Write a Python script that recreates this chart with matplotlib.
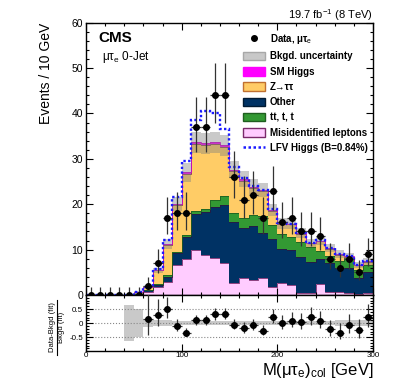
import numpy as np
import matplotlib
matplotlib.use('Agg')
import matplotlib.pyplot as plt
from matplotlib.lines import Line2D
from matplotlib.patches import Patch
from matplotlib.ticker import MultipleLocator

plt.rcParams['font.family'] = ['Liberation Sans', 'DejaVu Sans']
plt.rcParams['mathtext.fontset'] = 'custom'
plt.rcParams['mathtext.rm'] = 'Liberation Sans'
plt.rcParams['mathtext.it'] = 'Liberation Sans:italic'
plt.rcParams['mathtext.bf'] = 'Liberation Sans:bold'

# binning: 10 GeV bins from 0 to 300
edges = np.arange(0, 310, 10)

# observed events per bin
data = np.array([0, 0, 0, 0, 0, 0, 2, 7, 17, 18, 18, 37, 37, 44, 44,
                 26, 21, 22, 17, 23, 16, 17, 14, 14, 13, 8, 6, 8, 5, 9])

# background components (stacked bottom -> top)
misid = np.array([0, 0, 0, 0, 0, 0.05, 0.6, 1.8, 2.9, 6.6, 7.9, 9.9, 8.8, 8.1, 7.0,
                  2.6, 3.8, 3.3, 3.7, 1.8, 2.6, 2.2, 0.5, 0.5, 2.4, 0.7, 0.6, 0.5, 0.2, 0.5])
other = np.array([0, 0, 0, 0, 0.05, 0.15, 0.4, 0.4, 1.1, 2.6, 4.9, 7.9, 9.4, 11.3, 12.8,
                  13.5, 10.9, 11.8, 10.0, 10.5, 7.6, 7.7, 7.9, 6.8, 5.6, 6.3, 5.3, 5.5, 3.6, 4.6])
ttbar = np.array([0, 0, 0, 0, 0, 0.05, 0.1, 0.2, 0.3, 0.3, 0.4, 0.6, 0.7, 1.5, 1.9,
                  1.9, 2.3, 2.5, 3.7, 3.2, 3.3, 2.9, 3.2, 3.3, 1.6, 1.5, 1.6, 2.1, 1.7, 1.5])
ztt = np.array([0, 0, 0, 0, 0.05, 0.3, 0.65, 3.0, 6.8, 10.3, 13.5, 14.8, 14.1, 12.3, 10.9,
                9.3, 8.2, 6.0, 5.5, 3.1, 2.2, 2.8, 1.9, 0.8, 2.3, 1.7, 1.4, 0.35, 1.1, 0.7])
smh = np.array([0, 0, 0, 0, 0, 0, 0, 0.05, 0.1, 0.2, 0.3, 0.4, 0.4, 0.4, 0.4,
                0.3, 0.3, 0.2, 0.2, 0.2, 0.1, 0.1, 0.1, 0.1, 0.1, 0.1, 0.1, 0.05, 0.1, 0.1])

# relative background uncertainty
bkg_rel_unc = np.array([0, 0, 0, 0, 0.65, 0.5, 0.13, 0.1, 0.1, 0.08, 0.08, 0.07, 0.07, 0.07, 0.07,
                        0.07, 0.07, 0.07, 0.07, 0.07, 0.08, 0.08, 0.08, 0.08, 0.08, 0.08, 0.1, 0.1, 0.1, 0.1])

# LFV Higgs signal on top of background
lfv = np.array([0, 0, 0, 0, 0, 0, 0.1, 0.2, 0.9, 1.5, 2.5, 4.9, 7.1, 6.5, 3.5,
                0.5, 0.3, 0.2, 0.1, 0.1, 0.1, 0.05, 0.05, 0.05, 0.05, 0.05, 0, 0, 0, 0])

centers = 0.5 * (edges[:-1] + edges[1:])

layers = [
    (misid, '#ffccff', '#7a2a6a'),
    (other, '#003264', '#2a1a40'),
    (ttbar, '#339933', '#1f5f1f'),
    (ztt, '#ffcc66', '#7a3a50'),
    (smh, '#ff00ff', '#cc00cc'),
]

fig = plt.figure(figsize=(3.99, 3.84), dpi=100)
ax = fig.add_axes([0.2155, 0.2318, 0.7193, 0.7092])
rax = fig.add_axes([0.2155, 0.0852, 0.7193, 0.1466], sharex=ax)

# stacked backgrounds
bottom = np.zeros(len(data))
for vals, fc, ec in layers:
    top = bottom + vals
    ax.stairs(top, edges, baseline=bottom, fill=True, color=fc, lw=0)
    ax.stairs(top, edges, baseline=None, color=ec, lw=0.6)
    bottom = top
total = bottom

# uncertainty band
unc = total * bkg_rel_unc
ax.stairs(total + unc, edges, baseline=total - unc, fill=True,
          color='#808080', alpha=0.42, lw=0)

# signal line
ax.stairs(total + lfv, edges, baseline=None, color='#1a1aff', lw=1.7, ls=(0, (1, 1)))

# data with approx. poisson errors
err_up = np.where(data == 0, 1.84, np.sqrt(data + 0.25) + 0.5)
err_dn = np.where(data == 0, 0.0, np.sqrt(data + 0.25) - 0.5)
ax.errorbar(centers, data, yerr=[err_dn, err_up], xerr=5, fmt='o', color='k',
            ecolor='#333333', ms=4, elinewidth=0.9, capsize=0, zorder=6, clip_on=False)

# ratio panel
mask = data > 0
ratio = (data[mask] - total[mask]) / total[mask]
rel = np.divide(unc, total, out=np.zeros_like(total), where=total > 0)
rax.stairs(rel, edges, baseline=-rel, fill=True, color='#808080', alpha=0.42, lw=0)
for yv in (-0.5, 0, 0.5):
    rax.axhline(yv, color='#888888', ls=':', lw=0.8, zorder=1)
rax.errorbar(centers[mask], ratio, yerr=[err_dn[mask] / total[mask], err_up[mask] / total[mask]],
             xerr=5, fmt='o', color='k', ecolor='#333333', ms=4, elinewidth=0.9, capsize=0, zorder=6)

# axes styling
ax.set_xlim(0, 300)
ax.set_ylim(0, 60)
rax.set_ylim(-1, 1)
ax.yaxis.set_major_locator(MultipleLocator(10))
ax.yaxis.set_minor_locator(MultipleLocator(2))
ax.xaxis.set_major_locator(MultipleLocator(100))
ax.xaxis.set_minor_locator(MultipleLocator(20))
rax.set_yticks([-0.5, 0, 0.5])
rax.set_yticklabels(['-0.5', '0', '0.5'])
rax.yaxis.set_minor_locator(MultipleLocator(0.1))

for a in (ax, rax):
    a.tick_params(which='both', direction='in', top=True, right=True, width=0.8)
    a.tick_params(which='major', length=5)
    a.tick_params(which='minor', length=2.5)
    for s in a.spines.values():
        s.set_linewidth(1.0)
ax.tick_params(labelbottom=False, labelsize=7.5, pad=2)
rax.tick_params(labelsize=5.8, pad=2)
rax.tick_params(axis='x', pad=0.8)

# legend
handles = [
    Line2D([], [], marker='o', ls='none', color='k', ms=4),
    Patch(fc='#c8c8c8', ec='#a8a8a8'),
    Patch(fc='#ff00ff', ec='#ff00ff'),
    Patch(fc='#ffcc66', ec='#c07030'),
    Patch(fc='#003264', ec='#001a33'),
    Patch(fc='#339933', ec='#1f5f1f'),
    Patch(fc='#ffccff', ec='#7a2a6a'),
    Line2D([], [], color='#1a1aff', ls=(0, (1, 1)), lw=1.8),
]
labels = ['Data, μτ$_{\\rm e}$', 'Bkgd. uncertainty', 'SM Higgs', 'Z→ττ', 'Other',
          'tt, t, t', 'Misidentified leptons', 'LFV Higgs (B=0.84%)']
ax.legend(handles, labels, loc='upper left', bbox_to_anchor=(0.547, 0.965),
          frameon=False, prop={'weight': 'bold', 'size': 7}, handlelength=2.3,
          handleheight=1.0, handletextpad=0.45, labelspacing=0.54,
          borderpad=0, borderaxespad=0)

# texts
ax.text(0.042, 0.944, 'CMS', fontweight='bold', fontsize=11, transform=ax.transAxes, va='center')
ax.text(0.055, 0.863, 'μτ$_{\\rm e}$ 0-Jet', fontsize=8.5, transform=ax.transAxes, va='baseline')
fig.text(0.935, 1 - 19 / 384, '19.7 fb$^{-1}$ (8 TeV)', ha='right', va='baseline', fontsize=8)
fig.text(46.5 / 399, 1 - 23 / 384, 'Events / 10 GeV', rotation=90, ha='center', va='top', fontsize=10)
fig.text(0.935, 1 - 375 / 384, 'M(μτ$_{\\rm e}$)$_{\\rm col}$ [GeV]', ha='right', va='baseline', fontsize=12)

# ratio y label as a fraction
fig.text(52 / 399, 1 - 327.5 / 384, 'Data-Bkgd (fit)', rotation=90, ha='center', va='center', fontsize=5.5)
fig.text(61.5 / 399, 1 - 327.5 / 384, 'Bkgd (fit)', rotation=90, ha='center', va='center', fontsize=5.5)
fig.add_artist(Line2D([56.7 / 399] * 2, [1 - 300 / 384, 1 - 355 / 384],
                      transform=fig.transFigure, color='k', lw=0.8))

fig.savefig('out.png', dpi=100)
